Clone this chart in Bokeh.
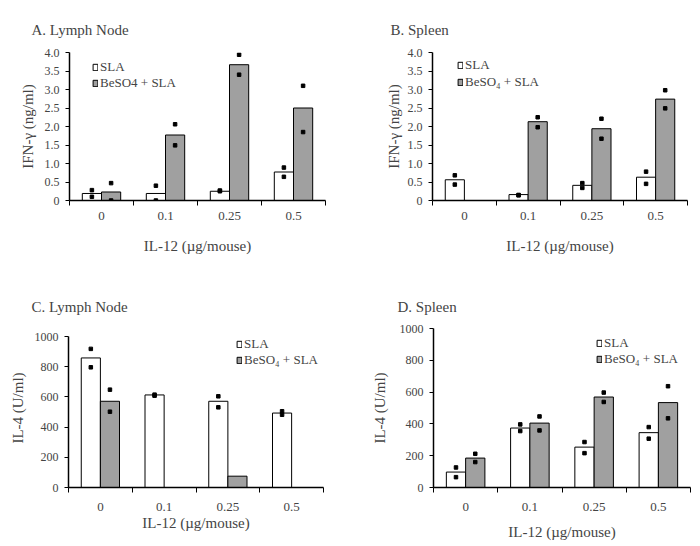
import numpy as np
from bokeh.plotting import figure
from bokeh.models import Range1d, FixedTicker, Legend, LegendItem, Title
from bokeh.layouts import column, row
from bokeh.embed import file_html
from bokeh.resources import INLINE

# ---------------- data ----------------
doses = ["0", "0.1", "0.25", "0.5"]

ifn_yticks = [0, 0.5, 1.0, 1.5, 2.0, 2.5, 3.0, 3.5, 4.0]
ifn_ylabels = ["0", "0.5", "1.0", "1.5", "2.0", "2.5", "3.0", "3.5", "4.0"]
il4_yticks = [0, 200, 400, 600, 800, 1000]
il4_ylabels = ["0", "200", "400", "600", "800", "1000"]

nan = float("nan")

# A. Lymph node, IFN-gamma (ng/ml)
a_sla = [0.19, 0.19, 0.25, 0.77]
a_sla_pt1 = [0.28, 0.40, 0.27, 0.89]
a_sla_pt2 = [0.10, 0.00, 0.25, 0.64]
a_be = [0.23, 1.77, 3.67, 2.50]
a_be_pt1 = [0.47, 2.06, 3.94, 3.10]
a_be_pt2 = [0.00, 1.49, 3.40, 1.85]

# B. Spleen, IFN-gamma (ng/ml)
b_sla = [0.56, 0.16, 0.41, 0.63]
b_sla_pt1 = [0.68, 0.15, 0.47, 0.78]
b_sla_pt2 = [0.43, 0.14, 0.34, 0.45]
b_be = [0.0, 2.13, 1.94, 2.74]
b_be_pt1 = [nan, 2.25, 2.21, 2.98]
b_be_pt2 = [nan, 1.98, 1.67, 2.49]

# C. Lymph node, IL-4 (U/ml)
c_sla = [858, 613, 571, 493]
c_sla_pt1 = [918, 615, 604, 505]
c_sla_pt2 = [796, 608, 531, 482]
c_be = [571, 0, 75, 0]
c_be_pt1 = [648, nan, nan, nan]
c_be_pt2 = [502, nan, nan, nan]

# D. Spleen, IL-4 (U/ml)
d_sla = [97, 374, 254, 345]
d_sla_pt1 = [126, 397, 286, 380]
d_sla_pt2 = [65, 355, 216, 307]
d_be = [185, 405, 569, 534]
d_be_pt1 = [212, 447, 597, 637]
d_be_pt2 = [160, 359, 538, 435]

FONT = "Liberation Serif"
GRAY = "#a0a0a0"


def panel(title, title_offset, title_standoff, ylabel, yticks, ylabels, ymax, view_max,
          sla, sla_p1, sla_p2, be, be_p1, be_p2, be_label,
          width, height, bl, br, bt, bb,
          tick_standoff, label_standoff, ylabel_standoff, leg_loc, leg_row):
    p = figure(width=width, height=height, output_backend="svg",
               toolbar_location=None, tools="",
               x_range=Range1d(0, len(doses)), y_range=Range1d(0, view_max),
               min_border_left=bl, min_border_right=br,
               min_border_top=bt, min_border_bottom=bb)
    p.outline_line_color = None
    p.grid.visible = False
    p.background_fill_color = "white"
    p.border_fill_color = "white"
    p.title.visible = False

    p.add_layout(Title(text=title, text_font=FONT, text_font_size="15px",
                       text_font_style="normal", align="left",
                       offset=title_offset, standoff=title_standoff), "above")

    centers = np.arange(len(doses)) + 0.5
    xs = centers - 0.15
    xb = centers + 0.15
    r1 = p.vbar(x=xs, top=sla, width=0.3, fill_color="white",
                line_color="black", line_width=1)
    r2 = p.vbar(x=xb, top=be, width=0.3, fill_color=GRAY,
                line_color="black", line_width=1)
    for xx, pts in ((xs, sla_p1), (xs, sla_p2), (xb, be_p1), (xb, be_p2)):
        p.scatter(x=xx, y=pts, marker="square", size=3.5,
                  fill_color="black", line_color="black")

    # x axis
    xa = p.below[0]
    xa.ticker = FixedTicker(ticks=list(centers), minor_ticks=list(range(len(doses) + 1)))
    xa.major_label_overrides = {float(c): d for c, d in zip(centers, doses)}
    xa.major_tick_out = 0
    xa.major_tick_in = 0
    xa.minor_tick_out = 5
    xa.minor_tick_in = 0
    xa.axis_line_width = 1.5
    xa.minor_tick_line_width = 1
    xa.major_label_text_font = FONT
    xa.major_label_text_font_size = "13px"
    xa.major_label_standoff = tick_standoff
    xa.axis_label = "IL-12 (\u00b5g/mouse)"
    xa.axis_label_text_font = FONT
    xa.axis_label_text_font_size = "15px"
    xa.axis_label_text_font_style = "normal"
    xa.axis_label_standoff = label_standoff

    # y axis
    ya = p.left[0]
    ya.ticker = FixedTicker(ticks=yticks)
    ya.bounds = (0, ymax)
    ya.major_label_overrides = {float(t): s for t, s in zip(yticks, ylabels)}
    ya.major_tick_out = 4
    ya.major_tick_in = 0
    ya.minor_tick_out = 0
    ya.minor_tick_in = 0
    ya.axis_line_width = 1.5
    ya.major_label_text_font = FONT
    ya.major_label_text_font_size = "12px"
    ya.major_label_standoff = 6
    ya.axis_label = ylabel
    ya.axis_label_text_font = FONT
    ya.axis_label_text_font_size = "15px"
    ya.axis_label_text_font_style = "normal"
    ya.axis_label_standoff = ylabel_standoff

    leg = Legend(items=[LegendItem(label="SLA", renderers=[r1]),
                        LegendItem(label=be_label, renderers=[r2])],
                 location=leg_loc, orientation="vertical",
                 glyph_width=6, glyph_height=8, label_height=leg_row,
                 label_standoff=2, spacing=0, padding=0, margin=0,
                 border_line_color=None, background_fill_alpha=0,
                 label_text_font=FONT, label_text_font_size="13px")
    p.add_layout(leg, "center")
    return p


pA = panel("A.  Lymph Node", -38, 29, "IFN-\u03b3 (ng/ml)", ifn_yticks, ifn_ylabels, 4.0, 4.0,
           a_sla, a_sla_pt1, a_sla_pt2, a_be, a_be_pt1, a_be_pt2, "BeSO4 + SLA",
           353, 278, 69, 28, 52, 78, 6, 15, 6, (23, 109), 16)
pB = panel("B.  Spleen", -42, 29, "IFN-\u03b3 (ng/ml)", ifn_yticks, ifn_ylabels, 4.0, 4.0,
           b_sla, b_sla_pt1, b_sla_pt2, b_be, b_be_pt1, b_be_pt2, "BeSO\u2084 + SLA",
           347, 278, 79, 13, 52, 78, 6, 15, 3, (25, 110), 17)
pC = panel("C.  Lymph Node", -37, 27, "IL-4 (U/ml)", il4_yticks, il4_ylabels, 1000, 1053,
           c_sla, c_sla_pt1, c_sla_pt2, c_be, c_be_pt1, c_be_pt2, "BeSO\u2084 + SLA",
           353, 268, 68, 30, 50, 59, 10, 1, 6, (168, 119), 16)
pD = panel("D.  Spleen", -36, 27, "IL-4 (U/ml)", il4_yticks, il4_ylabels, 1000, 1000,
           d_sla, d_sla_pt1, d_sla_pt2, d_be, d_be_pt1, d_be_pt2, "BeSO\u2084 + SLA",
           347, 268, 80, 10, 50, 59, 10, 10, 9, (163, 120), 16)

layout = column(row(pA, pB), row(pC, pD))
open("out.html", "w").write(file_html(layout, INLINE))
